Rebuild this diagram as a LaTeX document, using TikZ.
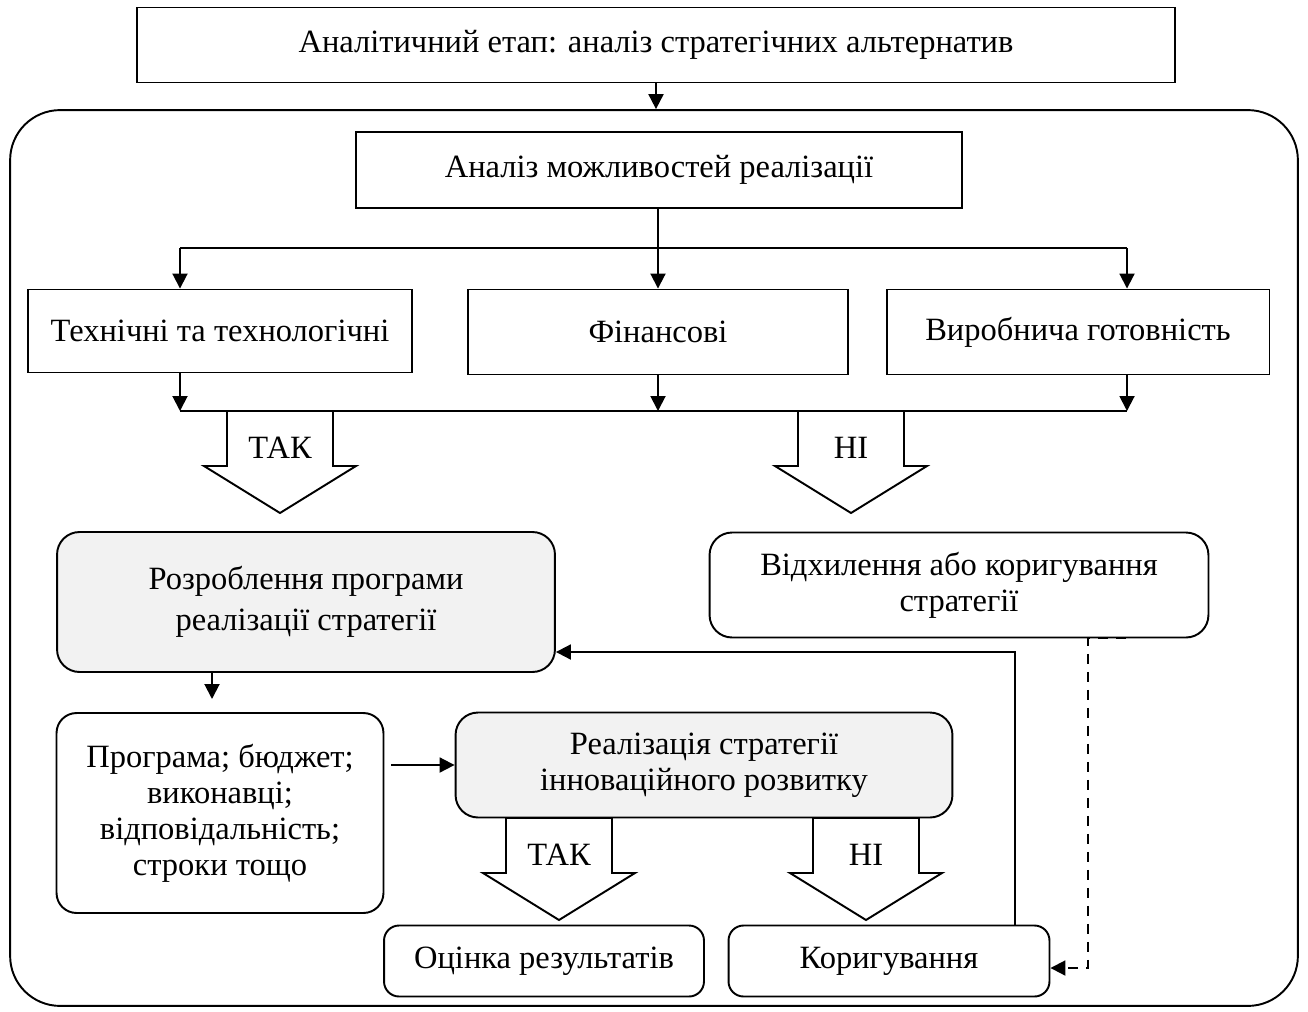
\documentclass[tikz,border=0pt]{standalone}
\usepackage{fontspec}
\setmainfont{Liberation Serif}
\usetikzlibrary{arrows.meta}

\newcommand{\blockarrow}[4]{%
	\draw[line width=1.1pt,fill=white] (#2-53,#3) -- (#2+53,#3) -- (#2+53,#3+55) -- (#2+76,#3+55)
		-- (#2,#3+102) -- (#2-76,#3+55) -- (#2-53,#3+55) -- cycle;
	\node (#1) at (#2,#3+37) {#4};}

\begin{document}
\begin{tikzpicture}[x=0.02cm,y=-0.02cm,
	font=\fontsize{18.5}{20.5}\selectfont,
	box/.style={draw,line width=1.1pt,align=center,inner sep=0pt},
	rbox/.style={box,rounded corners=0.45cm},
	gbox/.style={rbox,fill=black!5},
	line/.style={line width=0.8pt},
	arr/.style={line width=1.1pt,-{Triangle[length=0.3cm,width=0.3cm]}}]
	\useasboundingbox (0,0) rectangle (1308,1011);
	\node[draw,line width=1.1pt,rounded corners=1cm,minimum width=25.76cm,minimum height=17.92cm] (frame) at (654,558) {};
	\node[box,minimum width=20.76cm,minimum height=1.5cm] (etap) at (656,45) {Аналітичний етап: аналіз стратегічних альтернатив};
	\node[box,minimum width=12.14cm,minimum height=1.52cm] (analiz) at (659,170) {Аналіз можливостей реалізації};
	\node[box,minimum width=7.68cm,minimum height=1.66cm] (tech) at (220,331) {Технічні та технологічні};
	\node[box,minimum width=7.6cm,minimum height=1.7cm] (fin) at (658,332) {Фінансові};
	\node[box,minimum width=7.66cm,minimum height=1.7cm] (vyr) at (1078,332) {Виробнича готовність};
	\node[gbox,minimum width=9.96cm,minimum height=2.8cm] (rozrob) at (306,602) {Розроблення програми\\[3pt] реалізації стратегії};
	\node[rbox,minimum width=9.98cm,minimum height=2.1cm] (vidkh) at (959,585) {Відхилення або коригування\\ стратегії};
	\node[rbox,rounded corners=0.4cm,minimum width=6.54cm,minimum height=4cm] (programa) at (220,813) {Програма; бюджет;\\ виконавці;\\ відповідальність;\\ строки тощо};
	\node[gbox,minimum width=9.94cm,minimum height=2.1cm] (realiz) at (704,765) {Реалізація стратегії\\ інноваційного розвитку};
	\node[rbox,rounded corners=0.3cm,minimum width=6.4cm,minimum height=1.42cm] (ocinka) at (544,961) {Оцінка результатів};
	\node[rbox,rounded corners=0.3cm,minimum width=6.42cm,minimum height=1.42cm] (koryg) at (889,961) {Коригування};

	\draw[arr] (etap.south) -- (etap.south |- frame.north);
	\coordinate (sL) at (180,248);
	\coordinate (sR) at (1127,248);
	\draw[line] (sL) -- (sR);
	\draw[arr] (analiz.south -| fin.north) -- (fin.north);
	\draw[arr] (sL) -- (sL |- tech.north);
	\draw[arr] (sR) -- (sR |- vyr.north);
	\coordinate (cL) at (180,411);
	\coordinate (cR) at (1127,411);
	\draw[line] (cL) -- (cR);
	\draw[arr] (tech.south -| cL) -- (cL);
	\draw[arr] (fin.south) -- (fin.south |- cL);
	\draw[arr] (vyr.south -| cR) -- (cR);
	\blockarrow{tak1}{280}{411}{ТАК}
	\blockarrow{ni1}{851}{411}{НІ}

	\coordinate (d1) at (212,699);
	\draw[arr] (rozrob.south -| d1) -- (d1);
	\draw[arr] ([xshift=0.14cm]programa.east |- realiz.west) -- (realiz.west);
	\blockarrow{tak2}{559}{818}{ТАК}
	\blockarrow{ni2}{866}{818}{НІ}
	\coordinate (k1) at (1015,652);
	\draw[arr] (koryg.north -| k1) -- (k1) -- (rozrob.east |- k1);
	\coordinate (v1) at (1126,638);
	\coordinate (v2) at (1088,638);
	\coordinate (v3) at (1088,968);
	\draw[arr,dash pattern=on 0.2cm off 0.16cm] (v1) -- (v2) -- (v3) -- (koryg.east |- v3);
\end{tikzpicture}
\end{document}
